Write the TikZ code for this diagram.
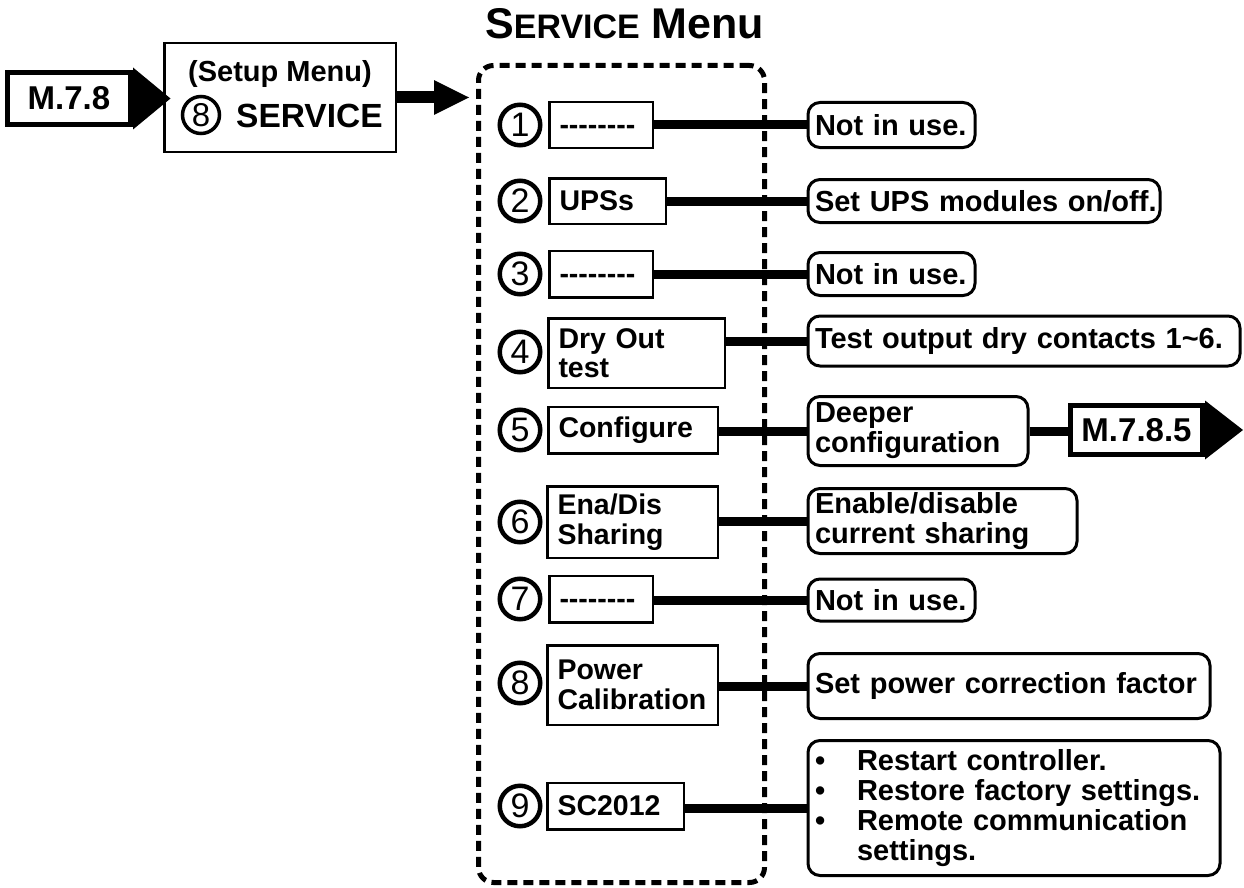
\documentclass[tikz,border=0pt]{standalone}
\usepackage{fontspec}
\setmainfont{Liberation Sans}
\usetikzlibrary{arrows.meta,calc}
\newcommand{\hy}{\mbox{-}}
\newcommand{\dashes}{\vphantom{U}\hy\hy\hy\hy\hy\hy\hy\hy}
\begin{document}
\begin{tikzpicture}[x=1pt,y=1pt,
  lbox/.style={draw, line width=2.5pt, anchor=west, align=left, inner xsep=10pt, inner ysep=0pt,
    font=\bfseries\fontsize{28.5}{29.5}\selectfont},
  rbox/.style={draw, line width=3pt, rounded corners=12pt, anchor=west, align=left, inner xsep=7pt, inner ysep=0pt,
    font=\bfseries\fontsize{29}{30}\selectfont},
  num/.style={circle, draw, line width=4.5pt, minimum size=40.5pt, inner sep=0pt,
    font=\fontsize{34}{34}\selectfont},
  link/.style={line width=9pt},
  tag/.style={draw, line width=5pt, inner sep=0pt, font=\bfseries\fontsize{33}{33}\selectfont},
  menuframe/.style={draw, line width=5pt, dash pattern=on 10pt off 6pt, rounded corners=15pt, inner sep=0pt},
]
\useasboundingbox (0,0) rectangle (1244,-888);

% title
\node[anchor=base west, inner sep=0pt] (title) at (485,-39)
  {\bfseries\fontsize{43}{43}\selectfont S\fontsize{34}{34}\selectfont ERVICE\fontsize{43}{43}\selectfont{} Menu};

% entry tag
\node[tag, minimum width=123pt, minimum height=52pt] (m78) at (69,-98.5) {M.7.8};
\fill ($(m78.north east)+(0,2.5)$) -- ($(m78.east)+(37.5,0)$) -- ($(m78.south east)+(0,-2.5)$) -- cycle;

% setup box
\node[draw, line width=2.5pt, minimum width=231.5pt, minimum height=108.5pt, inner sep=0pt] (setup) at (280,-97.5) {};
\node[anchor=base, inner sep=0pt, font=\bfseries\fontsize{29}{29}\selectfont] (setupt) at (280,-82) {(Setup Menu)};
\node[circle, draw, line width=3.5pt, minimum size=37pt, inner sep=0pt, font=\fontsize{33}{33}\selectfont] (setupn) at (201,-115) {8};
\node[anchor=base west, inner sep=0pt, font=\bfseries\fontsize{33.5}{33.5}\selectfont] (setups) at (236,-128) {SERVICE};

% service menu frame
\node[menuframe, minimum width=286pt, minimum height=817pt] (svc) at (621.5,-474) {};

\draw[line width=12pt, -{Triangle[length=36pt,width=32pt]}] (setup.east) -- ($(setup.east -| svc.west)+(-6,0)$);

% left column
\node[num] (n1) at (520,-125) {1};
\node[num] (n2) at (520,-201) {2};
\node[num] (n3) at (520,-274) {3};
\node[num] (n4) at (520,-352) {4};
\node[num] (n5) at (520,-430) {5};
\node[num] (n6) at (520,-522) {6};
\node[num] (n7) at (520,-599) {7};
\node[num] (n8) at (520,-683) {8};
\node[num] (n9) at (520,-806) {9};

\node[lbox, text width=83.5pt, minimum height=45.5pt] (l1) at (548.25,-125) {\dashes};
\node[lbox, text width=96.5pt, minimum height=45.5pt] (l2) at (548.25,-201) {UPSs};
\node[lbox, text width=83.5pt, minimum height=46.5pt] (l3) at (548.25,-274) {\dashes};
\node[lbox, text width=156.5pt, minimum height=69.5pt] (l4) at (547.25,-353) {Dry Out\\test};
\node[lbox, text width=149.5pt, minimum height=46.5pt] (l5) at (547.25,-430) {Configure};
\node[lbox, text width=150.5pt, minimum height=71.5pt] (l6) at (546.25,-522) {Ena/Dis\\Sharing};
\node[lbox, text width=83.5pt, minimum height=46.5pt] (l7) at (548.25,-599) {\dashes};
\node[lbox, text width=150.5pt, minimum height=79.5pt] (l8) at (546.25,-685) {Power\\Calibration};
\node[lbox, text width=116.5pt, minimum height=46.5pt] (l9) at (546.25,-806) {SC2012};

% right column
\node[rbox, text width=153pt, minimum height=45pt] (r1) at (806.5,-125) {\mbox{Not in use.}};
\node[rbox, text width=338pt, minimum height=43pt] (r2) at (806.5,-201) {\mbox{Set UPS modules on/off.}};
\node[rbox, text width=153pt, minimum height=43pt] (r3) at (806.5,-274) {\mbox{Not in use.}};
\node[rbox, text width=418pt, minimum height=50pt] (r4) at (806.5,-341) {\mbox{Test output dry contacts 1\char`~6.}};
\node[rbox, text width=206pt, minimum height=69pt] (r5) at (806.5,-431) {Deeper\\configuration};
\node[rbox, text width=255pt, minimum height=65pt] (r6) at (806.5,-521) {Enable/disable\\current sharing};
\node[rbox, text width=153pt, minimum height=42pt] (r7) at (806.5,-600) {\mbox{Not in use.}};
\node[rbox, text width=388pt, minimum height=65pt] (r8) at (806.5,-686) {\mbox{Set power correction factor}};
\node[rbox, text width=398pt, minimum height=135pt] (r9) at (806.5,-808)
  {\makebox[42pt][l]{\textbullet}Restart controller.\\
   \makebox[42pt][l]{\textbullet}Restore factory settings.\\
   \makebox[42pt][l]{\textbullet}Remote communication\\
   \hspace*{42pt}settings.};

% exit tag
\node[tag, minimum width=132pt, minimum height=49pt] (m785) at (1136.5,-430) {M.7.8.5};
\fill ($(m785.north east)+(0,2.5)$) -- ($(m785.east)+(38,0)$) -- ($(m785.south east)+(0,-2.5)$) -- cycle;

% connectors
\draw[link] (r1.west -| l1.east) -- (r1.west);
\draw[link] (r2.west -| l2.east) -- (r2.west);
\draw[link] (r3.west -| l3.east) -- (r3.west);
\draw[link] (r4.west -| l4.east) -- (r4.west);
\draw[link] (r5.west -| l5.east) -- (r5.west);
\draw[link] (r6.west -| l6.east) -- (r6.west);
\draw[link] (r7.west -| l7.east) -- (r7.west);
\draw[link] (r8.west -| l8.east) -- (r8.west);
\draw[link] (r9.west -| l9.east) -- (r9.west);
\draw[link] (r5.east) -- (r5.east -| m785.west);
\end{tikzpicture}
\end{document}
